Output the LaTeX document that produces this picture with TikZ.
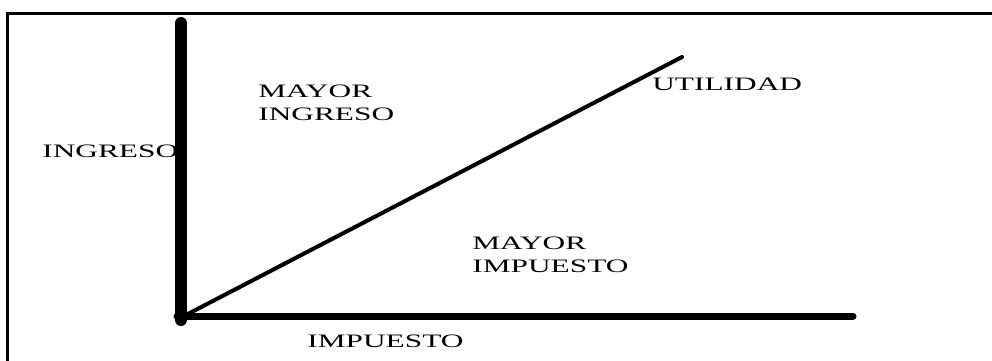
\documentclass[tikz,border=0pt]{standalone}
\usepackage{fontspec}
\setmainfont{Liberation Serif}
\usetikzlibrary{positioning}
\definecolor{d00}{rgb}{0.00, 0.00, 0.00}
\tikzstyle{Axis} = [draw, d00, line width=12pt, line cap=round]
\tikzstyle{Xaxis} = [draw, d00, line width=7pt, line cap=round]
\tikzstyle{Curve} = [draw, d00, line width=4pt, line cap=round]
\tikzstyle{Frame} = [draw, d00, line width=3pt]
\tikzstyle{lbl} = [inner sep=0pt, anchor=base west, align=left,
    font=\fontsize{19}{23}\selectfont, xscale=1.65, transform shape]

\begin{document}
\begin{tikzpicture}[x=1pt, y=1pt]
     % ><>< =================== ><>< %
     % ><><     Place nodes     ><>< %
     % ><>< =================== ><>< %
     \useasboundingbox (0,0) rectangle (992,-360);
     \coordinate (org) at (181,-316);
     \coordinate (ytop) at (181,-23);
     \coordinate (ybot) at (181,-320);
     \coordinate (xbeg) at (177,-316);
     \coordinate (xend) at (853,-316);
     \coordinate (ubeg) at (184,-316);
     \coordinate (uend) at (682,-57);
     \coordinate (fbot) at (7,-362);
     \coordinate (fcor) at (7,-13);
     \coordinate (fend) at (994,-13);
     \node [lbl] (ingreso) at (42,-157) {INGRESO};
     \node [lbl] (mayoring) at (258,-120) {MAYOR\\INGRESO};
     \node [lbl] (utilidad) at (652,-90) {UTILIDAD};
     \node [lbl] (mayorimp) at (472,-272) {MAYOR\\IMPUESTO};
     \node [lbl] (impuesto) at (307,-347) {IMPUESTO};
     % ><>< =================== ><>< %
     % ><><     Draw lines.     ><>< %
     % ><>< =================== ><>< %
     \path [Frame] (fbot) -- (fcor) -- (fend);
     \path [Axis] (ytop) -- (ybot);
     \path [Xaxis] (xbeg) -- (xend);
     \path [Curve] (ubeg) -- (uend);
  \end{tikzpicture}
\end{document}
